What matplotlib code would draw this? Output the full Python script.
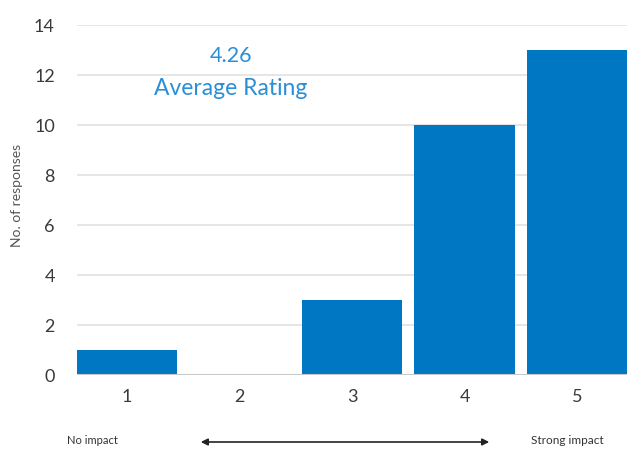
import matplotlib
matplotlib.use("Agg")
import matplotlib.pyplot as plt

categories = [1, 2, 3, 4, 5]
values = [1, 0, 3, 10, 13]
yticks = [0, 2, 4, 6, 8, 10, 12, 14]
average = "4.26"

plt.rcParams['font.family'] = ['Lato', 'DejaVu Sans']

fig = plt.figure(figsize=(6.27, 4.51), dpi=100)
ax = fig.add_axes([77/627, 76/451, 550/627, 350/451])

ax.bar(categories, values, width=0.89, color='#0077c2', zorder=3)
ax.set_xlim(0.556, 5.444)
ax.set_ylim(0, 14)
ax.set_yticks(yticks)
ax.set_xticks(categories)
ax.set_xticklabels([str(c) for c in categories])
ax.grid(axis='y', color='#e2e2e2', linewidth=1.2, zorder=0)
for s in ax.spines.values():
    s.set_visible(False)
ax.axhline(0, color='#c8c8c8', linewidth=1.5, zorder=4)
ax.tick_params(axis='both', length=0, labelsize=13, colors='#3a3a3a')
ax.tick_params(axis='y', pad=16)
ax.tick_params(axis='x', pad=10)

fig.text(17/627, 1 - 195/451, "No. of responses", rotation=90, ha='center', va='center',
         fontsize=10, color='#555555')

ax.text(1.925, 12.75, average, ha='center', va='center', fontsize=15.5, color='#2a8fd6')
ax.text(1.925, 11.45, "Average Rating", ha='center', va='center', fontsize=16.5, color='#2a8fd6')

fig.text(67/627, 1 - 440/451, "No impact", ha='left', va='center', fontsize=8, color='#333333')
fig.text(567/627, 1 - 440/451, "Strong impact", ha='center', va='center', fontsize=8.5, color='#333333')
fig.add_artist(matplotlib.patches.FancyArrowPatch((198/627, 1 - 442/451), (492/627, 1 - 442/451),
               transform=fig.transFigure, arrowstyle='<|-|>', mutation_scale=10,
               color='#222222', linewidth=1.2))

fig.savefig("out.png", dpi=100)
